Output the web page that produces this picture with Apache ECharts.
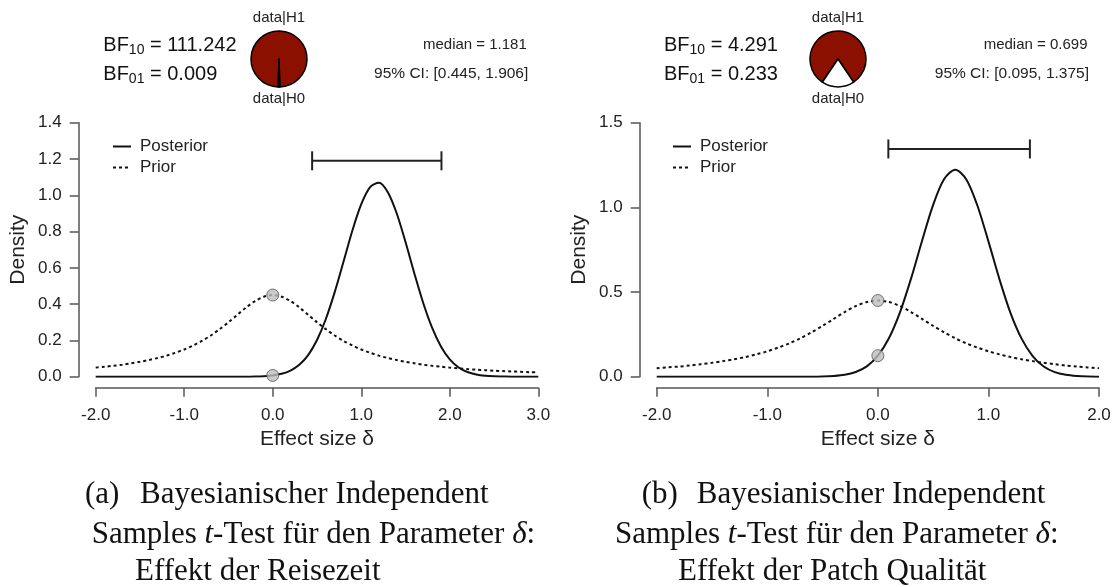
<!DOCTYPE html>
<html><head><meta charset="utf-8">
<script src="https://cdn.jsdelivr.net/npm/echarts@6.0.0/dist/echarts.min.js"></script>
<style>html,body{margin:0;padding:0;background:#fff}#c{width:1115px;height:587px}</style>
</head><body><div id="c"></div>
<script>
// ---------- data ----------
const xsLeft = [-2.0,-1.9,-1.8,-1.7,-1.6,-1.5,-1.4,-1.3,-1.2,-1.1,-1.0,-0.9,-0.8,-0.7,-0.6,-0.5,-0.4,-0.3,-0.2,-0.1,0.0,0.1,0.2,0.3,0.4,0.5,0.6,0.7,0.8,0.9,1.0,1.1,1.2,1.3,1.4,1.5,1.6,1.7,1.8,1.9,2.0,2.1,2.2,2.3,2.4,2.5,2.6,2.7,2.8,2.9,3.0];
const priorLeft = [0.050,0.055,0.060,0.066,0.074,0.082,0.092,0.103,0.116,0.132,0.150,0.172,0.197,0.227,0.262,0.300,0.341,0.382,0.417,0.441,0.450,0.441,0.417,0.382,0.341,0.300,0.262,0.227,0.197,0.172,0.150,0.132,0.116,0.103,0.092,0.082,0.074,0.066,0.060,0.055,0.050,0.046,0.042,0.039,0.036,0.033,0.031,0.029,0.027,0.025,0.024];
const postLeft = [0,0,0,0,0,0,0,0,0,0,0,0,0,0,0,0,0,0,0.001,0.003,0.007,0.016,0.034,0.066,0.119,0.202,0.318,0.466,0.635,0.806,0.951,1.045,1.069,1.017,0.901,0.742,0.569,0.406,0.270,0.167,0.096,0.051,0.026,0.012,0.005,0.002,0.001,0,0,0,0];

const xsRight = [-2.0,-1.9,-1.8,-1.7,-1.6,-1.5,-1.4,-1.3,-1.2,-1.1,-1.0,-0.9,-0.8,-0.7,-0.6,-0.5,-0.4,-0.3,-0.2,-0.1,0.0,0.1,0.2,0.3,0.4,0.5,0.6,0.7,0.8,0.9,1.0,1.1,1.2,1.3,1.4,1.5,1.6,1.7,1.8,1.9,2.0];
const priorRight = [0.050,0.055,0.060,0.066,0.074,0.082,0.092,0.103,0.116,0.132,0.150,0.172,0.197,0.227,0.262,0.300,0.341,0.382,0.417,0.441,0.450,0.441,0.417,0.382,0.341,0.300,0.262,0.227,0.197,0.172,0.150,0.132,0.116,0.103,0.092,0.082,0.074,0.066,0.060,0.055,0.050];
const postRight = [0,0,0,0,0,0,0,0,0,0,0,0,0,0,0,0.001,0.004,0.011,0.028,0.061,0.124,0.227,0.380,0.579,0.803,1.015,1.167,1.222,1.165,1.011,0.799,0.575,0.376,0.225,0.122,0.060,0.027,0.011,0.004,0.001,0];

const xTicksLeft = [-2, 3, 1];     // min, max, step
const xTicksRight = [-2, 2, 1];
const yTicksLeft = [0, 1.4, 0.2];
const yTicksRight = [0, 1.5, 0.5];

const bf10 = [111.242, 4.291];
const bf10Text = ['111.242', '4.291'];
const bf01Text = ['0.009', '0.233'];
const medians = ['1.181', '0.699'];
const ciLow = [0.445, 0.095];
const ciHigh = [1.906, 1.375];
const ciLowText = ['0.445', '0.095'];
const ciHighText = ['1.906', '1.375'];
const ciBarHeight = [1.19, 1.345];
const densAtZeroPrior = [0.450, 0.450];
const densAtZeroPost = [0.007, 0.124];

const captionA = ['(a)', 'Bayesianischer Independent', 'Samples {i|t}-Test für den Parameter{i| δ}:', 'Effekt der Reisezeit'];
const captionB = ['(b)', 'Bayesianischer Independent', 'Samples {i|t}-Test für den Parameter{i| δ}:', 'Effekt der Patch Qualität'];

// ---------- helpers ----------
const SANS = '"Liberation Sans", Arial, Helvetica, sans-serif';
const SERIF = '"Liberation Serif", "Times New Roman", serif';
const zip = (xs, ys) => xs.map((x, i) => [x, ys[i]]);
const AX = '#555';
const TXT = '#222';

function xAxisDef(idx, t) {
  return {
    gridIndex: idx, type: 'value', min: t[0], max: t[1], interval: t[2],
    offset: 11,
    axisLine: { show: true, onZero: false, lineStyle: { color: AX, width: 1.5 } },
    axisTick: { show: true, length: 9, lineStyle: { color: AX, width: 1.5 } },
    axisLabel: { margin: 19, fontSize: 17, color: TXT, fontFamily: SANS, formatter: v => v.toFixed(1) },
    splitLine: { show: false },
    name: 'Effect size δ', nameLocation: 'middle', nameGap: 41,
    nameTextStyle: { fontSize: 21, color: TXT, fontFamily: SANS }
  };
}
function yAxisDef(idx, t) {
  return {
    gridIndex: idx, type: 'value', min: t[0], max: t[1], interval: t[2],
    offset: 17,
    axisLine: { show: true, onZero: false, lineStyle: { color: AX, width: 1.5 } },
    axisTick: { show: true, length: 9, lineStyle: { color: AX, width: 1.5 } },
    axisLabel: { margin: 17, fontSize: 17, color: TXT, fontFamily: SANS, formatter: v => v.toFixed(1) },
    splitLine: { show: false },
    name: 'Density', nameLocation: 'middle', nameGap: 50,
    nameTextStyle: { fontSize: 21, color: TXT, fontFamily: SANS }
  };
}
function panelSeries(idx, xs, prior, post) {
  return [
    { name: 'Prior', type: 'line', xAxisIndex: idx, yAxisIndex: idx, data: zip(xs, prior),
      symbol: 'none', smooth: 0.3, itemStyle: { color: '#111' }, lineStyle: { color: '#111', width: 2, type: [3, 3] }, z: 3 },
    { name: 'Posterior', type: 'line', xAxisIndex: idx, yAxisIndex: idx, data: zip(xs, post),
      symbol: 'none', smooth: 0.3, itemStyle: { color: '#111' }, lineStyle: { color: '#111', width: 2 }, z: 4 },
    { name: 'CI', type: 'line', xAxisIndex: idx, yAxisIndex: idx,
      data: [[ciLow[idx], ciBarHeight[idx]], [ciHigh[idx], ciBarHeight[idx]]],
      symbol: 'rect', symbolSize: [2, 19], showSymbol: true,
      itemStyle: { color: '#222' }, lineStyle: { color: '#222', width: 2 }, z: 4 },
    { name: 'pts', type: 'scatter', xAxisIndex: idx, yAxisIndex: idx,
      data: [[0, densAtZeroPrior[idx]], [0, densAtZeroPost[idx]]],
      symbolSize: 12, itemStyle: { color: '#bdbdbd', borderColor: '#555', borderWidth: 1 }, z: 6 }
  ];
}
function pieSeries(idx, cx) {
  const h1 = bf10[idx] / (bf10[idx] + 1);
  const h0 = 1 - h1;
  return {
    type: 'pie', center: [cx, 59], radius: 28, startAngle: 270 - 180 * h0, clockwise: true,
    silent: true, label: { show: false }, labelLine: { show: false }, minAngle: 0,
    itemStyle: { borderColor: '#000', borderWidth: 1.5 },
    data: [
      { name: 'data|H1', value: h1, itemStyle: { color: '#8b1000' } },
      { name: 'data|H0', value: h0, itemStyle: { color: '#ffffff' } }
    ]
  };
}
function headerGraphics(idx, bfX, pieX, rightX) {
  const richBF = {
    b: { fontSize: 20, lineHeight: 24, fill: '#111', fontFamily: SANS },
    s: { fontSize: 14, lineHeight: 14, padding: [9, 0, 0, 0], verticalAlign: 'bottom', fill: '#111', fontFamily: SANS }
  };
  return [
    { type: 'text', x: bfX, y: 45, style: { text: '{b|BF}{s|10}{b| = ' + bf10Text[idx] + '}', rich: richBF, verticalAlign: 'middle', align: 'left' } },
    { type: 'text', x: bfX, y: 74, style: { text: '{b|BF}{s|01}{b| = ' + bf01Text[idx] + '}', rich: richBF, verticalAlign: 'middle', align: 'left' } },
    { type: 'text', x: pieX, y: 18, style: { text: 'data|H1', font: '15px ' + SANS, fill: TXT, align: 'center', verticalAlign: 'middle' } },
    { type: 'text', x: pieX, y: 99, style: { text: 'data|H0', font: '15px ' + SANS, fill: TXT, align: 'center', verticalAlign: 'middle' } },
    { type: 'text', x: rightX - 1.5, y: 45, style: { text: 'median = ' + medians[idx], font: '15px ' + SANS, fill: TXT, align: 'right', verticalAlign: 'middle' } },
    { type: 'text', x: rightX, y: 74, style: { text: '95% CI: [' + ciLowText[idx] + ', ' + ciHighText[idx] + ']', font: '15.5px ' + SANS, fill: TXT, align: 'right', verticalAlign: 'middle' } }
  ];
}
function captionGraphics(cap, xs) {
  const rich = {
    n: { fontSize: 31, fontFamily: SERIF, fill: '#111' },
    i: { fontSize: 31, fontFamily: SERIF, fontStyle: 'italic', fill: '#111' }
  };
  const ys = [495, 495, 535, 572];
  return cap.map((t, k) => ({
    type: 'text', x: xs[k], y: ys[k],
    style: { text: t.split(/(\{i\|[^}]*\})/).map(p => p.startsWith('{') ? p : (p ? '{n|' + p + '}' : '')).join(''),
             rich: rich, align: 'left', verticalAlign: 'middle' }
  }));
}

const legendBase = {
  orient: 'vertical', data: ['Posterior', 'Prior'], itemWidth: 18, itemHeight: 14, itemGap: 4,
  selectedMode: false, itemStyle: { opacity: 0 },
  textStyle: { fontSize: 17, color: TXT, fontFamily: SANS, padding: [0, 0, 0, 4] }
};

const chart = echarts.init(document.getElementById('c'), null, { renderer: 'canvas' });
chart.setOption({
  animation: false,
  backgroundColor: '#fff',
  grid: [
    { left: 95.7, top: 122.7, width: 442.6, height: 254, outerBoundsMode: 'none' },
    { left: 656.7, top: 122.7, width: 442.3, height: 254, outerBoundsMode: 'none' }
  ],
  xAxis: [xAxisDef(0, xTicksLeft), xAxisDef(1, xTicksRight)],
  yAxis: [yAxisDef(0, yTicksLeft), yAxisDef(1, yTicksRight)],
  legend: [
    Object.assign({}, legendBase, { left: 107, top: 133 }),
    Object.assign({}, legendBase, { left: 667, top: 133 })
  ],
  series: [
    ...panelSeries(0, xsLeft, priorLeft, postLeft),
    ...panelSeries(1, xsRight, priorRight, postRight),
    pieSeries(0, 279),
    pieSeries(1, 838)
  ],
  graphic: [
    ...headerGraphics(0, 103.3, 279, 528.3),
    ...headerGraphics(1, 664, 838, 1089),
    ...captionGraphics(captionA, [85, 140, 91.7, 135]),
    ...captionGraphics(captionB, [641.7, 696.7, 615, 678])
  ]
});
</script></body></html>
